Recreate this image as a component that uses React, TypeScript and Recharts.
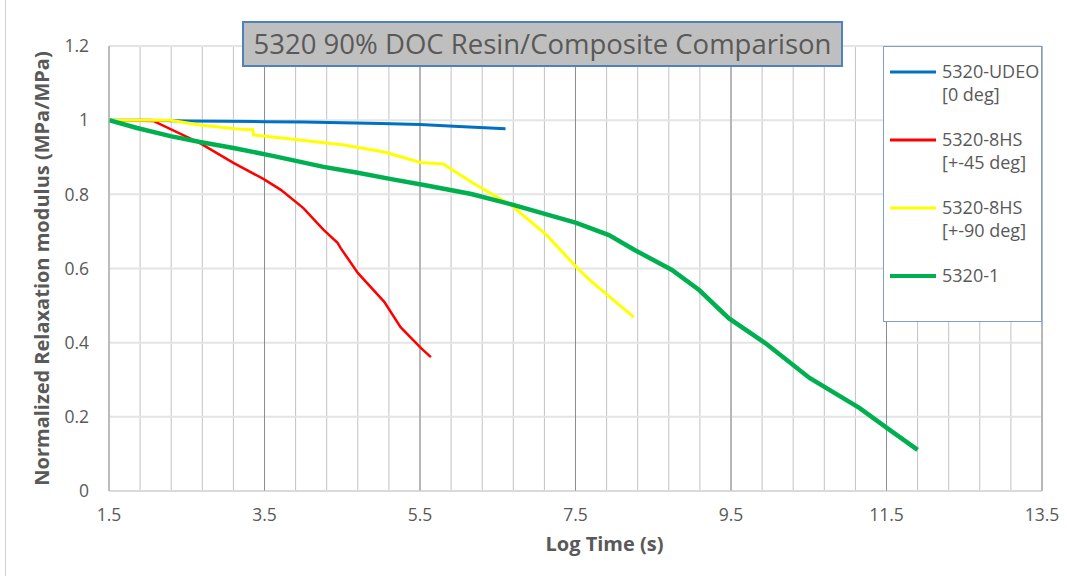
import { LineChart, Line, XAxis, YAxis, CartesianGrid, Legend, ReferenceLine } from 'recharts'

// Log time (x) vs normalized relaxation modulus (y) per specimen
const udeoX = [1.5, 2.0, 2.5, 3.0, 3.5, 4.0, 4.5, 5.0, 5.5, 6.0, 6.6]
const udeoY = [1.0, 1.0, 0.998, 0.997, 0.996, 0.995, 0.993, 0.991, 0.988, 0.983, 0.977]

const hs45X = [1.5, 2.07, 2.67, 3.1, 3.49, 3.71, 4.0, 4.26, 4.44, 4.48, 4.7, 5.04, 5.25, 5.51, 5.64]
const hs45Y = [1.0, 0.998, 0.938, 0.885, 0.841, 0.812, 0.763, 0.704, 0.669, 0.655, 0.588, 0.51, 0.442, 0.386, 0.361]

const hs90X = [1.5, 2.29, 2.67, 3.15, 3.35, 3.36, 3.84, 4.52, 5.04, 5.51, 5.8, 6.16, 6.67, 7.13, 7.51, 7.71, 8.25]
const hs90Y = [1.0, 1.0, 0.987, 0.976, 0.974, 0.96, 0.949, 0.933, 0.914, 0.886, 0.882, 0.833, 0.771, 0.69, 0.604, 0.564, 0.469]

const resinX = [1.5, 1.86, 2.29, 2.67, 3.1, 3.62, 4.26, 4.7, 5.13, 5.55, 6.16, 6.71, 7.51, 7.93, 8.26, 8.74, 9.09, 9.47, 9.94, 10.51, 11.15, 11.54, 11.9]
const resinY = [1.0, 0.979, 0.957, 0.941, 0.925, 0.903, 0.874, 0.858, 0.841, 0.825, 0.801, 0.771, 0.723, 0.69, 0.65, 0.596, 0.542, 0.466, 0.399, 0.305, 0.224, 0.165, 0.111]

const xMajorTicks = [1.5, 3.5, 5.5, 7.5, 9.5, 11.5, 13.5]
const xMinorTicks = [
  1.5, 1.9, 2.3, 2.7, 3.1, 3.5, 3.9, 4.3, 4.7, 5.1, 5.5, 5.9, 6.3, 6.7, 7.1, 7.5,
  7.9, 8.3, 8.7, 9.1, 9.5, 9.9, 10.3, 10.7, 11.1, 11.5, 11.9, 12.3, 12.7, 13.1, 13.5,
]
const yTicks = [0, 0.2, 0.4, 0.6, 0.8, 1, 1.2]

const toPoints = (xs: number[], ys: number[]) => xs.map((x, i) => ({ x, y: ys[i] }))

const series = [
  { name: '5320-UDEO', sub: '[0 deg]', color: '#0070C0', width: 3, data: toPoints(udeoX, udeoY) },
  { name: '5320-8HS', sub: '[+-45 deg]', color: '#FF0000', width: 2.5, data: toPoints(hs45X, hs45Y) },
  { name: '5320-8HS', sub: '[+-90 deg]', color: '#FFFF00', width: 3, data: toPoints(hs90X, hs90Y) },
  { name: '5320-1', sub: '', color: '#00B050', width: 4.5, data: toPoints(resinX, resinY) },
]

const FONT = '"Open Sans", "Noto Sans", sans-serif'
const GRAY = '#595959'

function LegendBox() {
  return (
    <div
      style={{
        width: 159,
        height: 276,
        border: '1px solid #7f9fcf',
        background: '#fff',
        fontFamily: FONT,
        fontSize: 18,
        color: GRAY,
        boxSizing: 'border-box',
        paddingTop: 13,
      }}
    >
      {series.map((s, i) => (
        <div key={i} style={{ display: 'flex', alignItems: 'flex-start', height: 68 }}>
          <svg width={52} height={24} style={{ marginLeft: 6, flexShrink: 0 }}>
            <line x1={0} x2={46} y1={12} y2={12} stroke={s.color} strokeWidth={s.width === 4.5 ? 4 : 3} />
          </svg>
          <div style={{ lineHeight: '23px' }}>
            <div>{s.name}</div>
            {s.sub && <div>{s.sub}</div>}
          </div>
        </div>
      ))}
    </div>
  )
}

export default function App() {
  return (
    <div
      style={{
        position: 'absolute',
        left: 0,
        top: 0,
        width: 1067,
        height: 576,
        background: '#fff',
      }}
    >
      <div style={{ position: 'absolute', left: 5, top: 0, width: 1, height: 576, background: '#d0d0d0' }} />
      <LineChart width={1067} height={576} margin={{ top: 46, right: 25, bottom: 25, left: 0 }}>
        <CartesianGrid stroke="#c2c2c2" horizontal={false} />
        <CartesianGrid stroke="#e4e4e4" strokeWidth={2} vertical={false} />
        {xMajorTicks.map((v) => (
          <ReferenceLine key={v} x={v} stroke="#8c8c8c" strokeWidth={1} />
        ))}
        <XAxis
          type="number"
          dataKey="x"
          domain={[1.5, 13.5]}
          ticks={xMinorTicks}
          interval={0}
          tickFormatter={(v: number) => (xMajorTicks.includes(v) ? String(v) : '')}
          tickLine={false}
          axisLine={{ stroke: '#d0d0d0' }}
          tick={{ fill: GRAY, fontSize: 17.5, fontFamily: FONT }}
          tickMargin={12}
          height={60}
          label={{
            value: 'Log Time (s)',
            position: 'insideBottom',
            offset: 0,
            dx: 29,
            fill: GRAY,
            fontSize: 20,
            fontWeight: 'bold',
            fontFamily: FONT,
          }}
        />
        <YAxis
          type="number"
          dataKey="y"
          domain={[0, 1.2]}
          ticks={yTicks}
          interval={0}
          width={109}
          tickLine={false}
          axisLine={{ stroke: '#c0c0c0' }}
          tick={{ fill: GRAY, fontSize: 17.5, fontFamily: FONT }}
          tickMargin={14}
          label={{
            value: 'Normalized Relaxation modulus (MPa/MPa)',
            angle: -90,
            position: 'insideLeft',
            offset: 42,
            fill: GRAY,
            fontSize: 20,
            fontWeight: 'bold',
            fontFamily: FONT,
            style: { textAnchor: 'middle' },
          }}
        />
        <Legend
          layout="vertical"
          verticalAlign="middle"
          align="center"
          content={() => <LegendBox />}
          wrapperStyle={{ position: 'absolute', left: 883, top: 46, width: 159, height: 276 }}
        />
        {series.map((s, i) => (
          <Line
            key={i}
            data={s.data}
            dataKey="y"
            name={`${s.name} ${s.sub}`.trim()}
            type="linear"
            stroke={s.color}
            strokeWidth={s.width}
            dot={false}
            isAnimationActive={false}
          />
        ))}
      </LineChart>
      <div
        style={{
          position: 'absolute',
          left: 242,
          top: 21,
          width: 601,
          height: 46,
          boxSizing: 'border-box',
          background: '#bfbfbf',
          border: '2px solid #4f81bd',
          color: GRAY,
          fontFamily: FONT,
          fontSize: 27.5,
          lineHeight: '42px',
          textAlign: 'center',
          whiteSpace: 'nowrap',
        }}
      >
        5320 90% DOC Resin/Composite Comparison
      </div>
    </div>
  )
}
